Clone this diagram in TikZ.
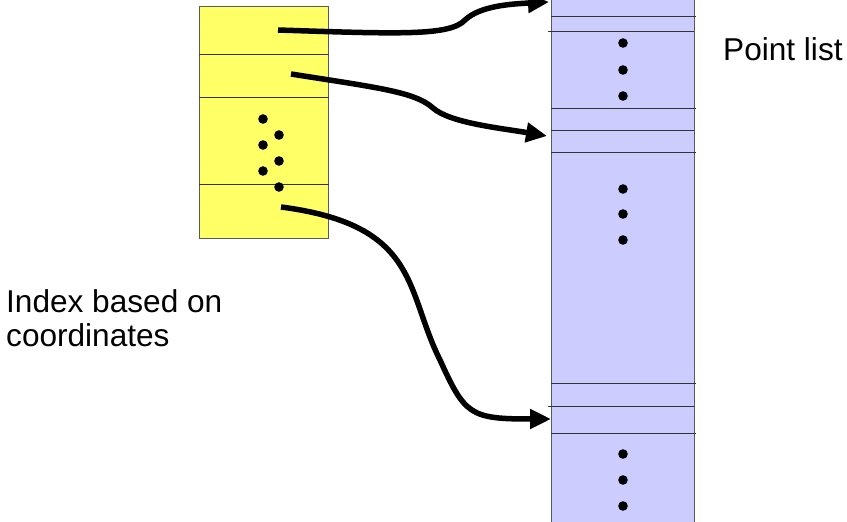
\documentclass[tikz,border=0pt]{standalone}
\usepackage{fontspec}
\setmainfont{Liberation Sans}
\usetikzlibrary{arrows.meta}
\definecolor{idxyellow}{RGB}{255,255,102}
\definecolor{lstblue}{RGB}{204,204,255}
\definecolor{boxedge}{RGB}{90,90,90}
\tikzset{
  sep/.style={draw=black!80, line width=0.8pt},
  bigdot/.style={fill=black, draw=none},
  link/.style={line width=5.5pt, -{Triangle[length=21pt,width=19pt]}},
  lbl/.style={font=\fontsize{31.6}{34}\selectfont, inner sep=0pt, align=left}
}
\begin{document}
\begin{tikzpicture}[x=1pt,y=-1pt]
\useasboundingbox (0,0) rectangle (847,522);
% index box
\draw[fill=idxyellow, draw=boxedge, line width=0.8pt] (199,6) rectangle (328,238);
\draw[sep] (199,54) -- (329,54);
\draw[sep] (199,97) -- (329,97);
\draw[sep] (199,184) -- (329,184);
\foreach \p in {(263,119),(279,135),(263,145),(279,161),(263,171),(279,187)}
  \fill[bigdot] \p circle (4.8);
% point list
\begin{scope}
\clip (0,0) rectangle (847,522);
\draw[fill=lstblue, draw=boxedge, line width=0.8pt] (551,-5) rectangle (694,530);
\foreach \y/\a/\b in {16/551/696, 31/548/694, 108/551/696, 130/551/694, 152/551/696, 383/551/696, 406/548/694, 433/551/696}
  \draw[sep] (\a,\y) -- (\b,\y);
\end{scope}
\foreach \y in {43,70,96,189,214,240,454,480,506}
  \fill[bigdot] (623,\y) circle (4.8);
% anchors for connectors
\coordinate (s1) at (278,30);
\coordinate (t1) at (549,2);
\coordinate (s2) at (291,74);
\coordinate (t2) at (547,136);
\coordinate (s3) at (281,207);
\coordinate (t3) at (551,419);
\draw[link] (s1) .. controls (400,34) and (450,36) .. (465,20) .. controls (480,6) and (510,4) .. (t1);
\draw[link] (s2) .. controls (380,88) and (415,92) .. (433,108) .. controls (450,123) and (500,128) .. (t2);
\draw[link] (s3) .. controls (420,225) and (405,290) .. (440,360) .. controls (465,415) and (470,419) .. (t3);
% labels
\node[lbl, anchor=base west] (pl) at (723,60) {Point list};
\node[lbl, anchor=base west] (ix) at (6,346) {Index based on\\coordinates};
\end{tikzpicture}
\end{document}
